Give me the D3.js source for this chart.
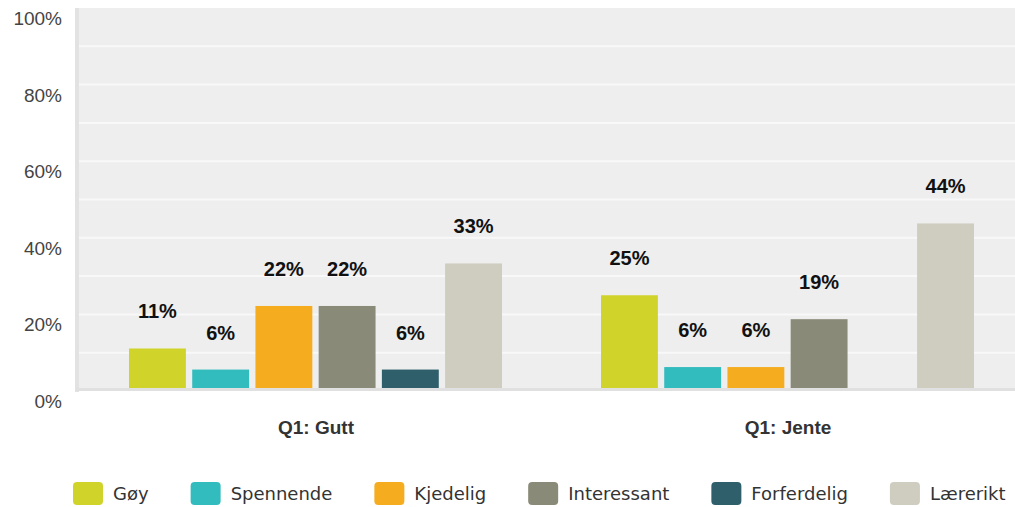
<!DOCTYPE html>
<html>
<head>
<meta charset="utf-8">
<title>Q1 chart</title>
<style>
    body { margin: 0; background: #fff; }
    svg { display: block; font-family: "Liberation Sans", Arial, sans-serif; }
    .ytick { fill: #444; font-size: 19px; }
    .val { fill: #111; font-size: 20px; font-weight: bold; }
    .cat { fill: #333; font-size: 19px; font-weight: bold; }
    .leg { fill: #333; font-size: 18px; font-family: "DejaVu Sans", Verdana, sans-serif; }
</style>
</head>
<body>
<svg width="1015" height="507"></svg>
<script src="https://d3js.org/d3.v7.min.js"></script>
<script>
// data
const groups = ['Q1: Gutt', 'Q1: Jente'];
const answers = ['Gøy', 'Spennende', 'Kjedelig', 'Interessant', 'Forferdelig', 'Lærerikt'];
const gutt = [11.1, 5.6, 22.2, 22.2, 5.6, 33.3];
const jente = [25, 6.25, 6.25, 18.75, 0, 43.75];
const colors = ['#d0d42a', '#33bcbe', '#f5ac1f', '#8a8a78', '#2e5f6b', '#cfcdbf'];
const yTicks = [0, 20, 40, 60, 80, 100];

const series = [gutt, jente];

let svg = d3.select('svg');

let y = d3.scaleLinear().domain([0, 100]).range([391, 8]);
let x = d3.scaleBand().domain(groups).range([80, 1024]);
let xi = d3.scaleBand().domain(answers).range([49, x.bandwidth() - 50]).paddingInner(0.1);
let color = d3.scaleOrdinal().domain(answers).range(colors);

// plot background
svg.append('rect')
    .attr('x', 76).attr('y', y(100))
    .attr('width', 1015 - 76).attr('height', y(0) - y(100))
    .attr('fill', '#eeeeee');

// gridlines every 10%
svg.append('g').selectAll('line')
    .data(d3.range(10, 100, 10))
    .join('line')
        .attr('x1', 79).attr('x2', 1015)
        .attr('y1', d => y(d)).attr('y2', d => y(d))
        .attr('stroke', '#f8f8f8').attr('stroke-width', 2);

// left border
svg.append('rect')
    .attr('x', 75).attr('y', y(100))
    .attr('width', 4).attr('height', y(0) - y(100) + 1)
    .attr('fill', '#e2e2e2');

// y labels (sit a little under their gridline)
svg.append('g').selectAll('text')
    .data(yTicks)
    .join('text')
        .attr('class', 'ytick')
        .attr('x', 62)
        .attr('y', d => y(d) + 17)
        .attr('text-anchor', 'end')
        .text(d => d + '%');

// bars
let g = svg.append('g').selectAll('g')
    .data(groups)
    .join('g')
        .attr('transform', d => `translate(${x(d)},0)`);

g.selectAll('rect')
    .data((d, i) => series[i].map((v, j) => ({ key: answers[j], v: v })))
    .join('rect')
        .attr('x', d => xi(d.key))
        .attr('width', xi.bandwidth())
        .attr('y', d => y(d.v))
        .attr('height', d => y(0) - y(d.v))
        .attr('fill', d => color(d.key));

g.selectAll('text.val')
    .data((d, i) => series[i].map((v, j) => ({ key: answers[j], v: v })).filter(d => d.v > 0))
    .join('text')
        .attr('class', 'val')
        .attr('x', d => xi(d.key) + xi.bandwidth() / 2)
        .attr('y', d => y(d.v) - 30)
        .attr('text-anchor', 'middle')
        .text(d => Math.round(d.v) + '%');

// bottom axis line
svg.append('rect')
    .attr('x', 75).attr('y', 388)
    .attr('width', 1015 - 75).attr('height', 3)
    .attr('fill', '#e0e0e0');

// group labels
svg.append('g').selectAll('text')
    .data(groups)
    .join('text')
        .attr('class', 'cat')
        .attr('x', d => x(d) + x.bandwidth() / 2)
        .attr('y', 434)
        .attr('text-anchor', 'middle')
        .text(d => d);

// legend, laid out by text width
let legend = svg.append('g');
let lx = 73;
answers.forEach(function(a) {
    legend.append('rect')
        .attr('x', lx).attr('y', 482)
        .attr('width', 30).attr('height', 23)
        .attr('rx', 4)
        .attr('fill', color(a));
    let t = legend.append('text')
        .attr('class', 'leg')
        .attr('x', lx + 40).attr('y', 500)
        .text(a);
    lx += 40 + t.node().getComputedTextLength() + 42;
});
</script>
</body>
</html>
